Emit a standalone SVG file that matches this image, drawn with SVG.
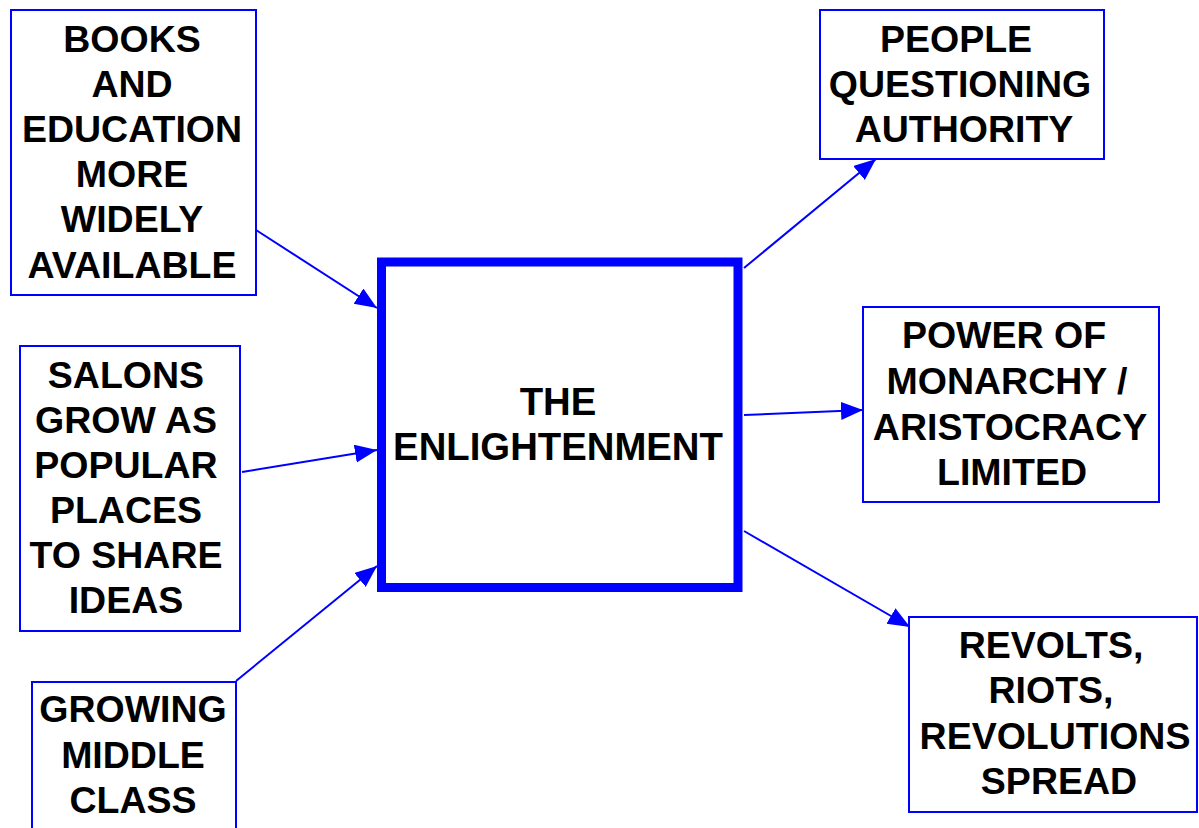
<svg xmlns="http://www.w3.org/2000/svg" width="1199" height="828" viewBox="0 0 1199 828">
  <style>
    .box { fill: #ffffff; stroke: #0000ff; stroke-width: 2; }
    .hub { fill: #ffffff; stroke: #0000ff; stroke-width: 9; }
    .lbl { font-family: "Liberation Sans", Arial, sans-serif; font-size: 37.5px; font-weight: bold; fill: #000000; text-anchor: middle; }
    .hub-lbl { font-family: "Liberation Sans", Arial, sans-serif; font-size: 38.3px; font-weight: bold; fill: #000000; text-anchor: middle; }
    .edge { stroke: #0000ff; stroke-width: 2; fill: none; marker-end: url(#arrow); }
  </style>
  <defs>
    <marker id="arrow" markerUnits="userSpaceOnUse" markerWidth="24" markerHeight="20" refX="22" refY="9" orient="auto">
      <path d="M0,0 L22,9 L0,18 Z" fill="#0000ff"/>
    </marker>
  </defs>
  <rect width="1199" height="828" fill="#ffffff"/>

  <!-- connectors -->
  <g id="connectors">
    <line class="edge" x1="256" y1="230" x2="377" y2="308"/>
    <line class="edge" x1="242" y1="472" x2="377" y2="450"/>
    <line class="edge" x1="236" y1="681" x2="377" y2="566"/>
    <line class="edge" x1="744" y1="268" x2="876" y2="159"/>
    <line class="edge" x1="744" y1="415" x2="863" y2="410"/>
    <line class="edge" x1="744" y1="531" x2="910" y2="627"/>
  </g>

  <!-- central node -->
  <g id="enlightenment">
    <rect class="hub" x="381.5" y="262" width="356.5" height="325.5"/>
    <text class="hub-lbl" x="558" y="415">THE</text>
    <text class="hub-lbl" x="558" y="460">ENLIGHTENMENT</text>
  </g>

  <!-- causes -->
  <g id="books">
    <rect class="box" x="11" y="10" width="245" height="285"/>
    <text class="lbl" x="132" y="52">BOOKS</text>
    <text class="lbl" x="132" y="97">AND</text>
    <text class="lbl" x="132" y="142">EDUCATION</text>
    <text class="lbl" x="132" y="187">MORE</text>
    <text class="lbl" x="132" y="232">WIDELY</text>
    <text class="lbl" x="132" y="278">AVAILABLE</text>
  </g>

  <g id="salons">
    <rect class="box" x="20" y="346" width="220" height="285"/>
    <text class="lbl" x="126" y="388">SALONS</text>
    <text class="lbl" x="126" y="433">GROW AS</text>
    <text class="lbl" x="126" y="478">POPULAR</text>
    <text class="lbl" x="126" y="523">PLACES</text>
    <text class="lbl" x="126" y="568">TO SHARE</text>
    <text class="lbl" x="126" y="613">IDEAS</text>
  </g>

  <g id="middle-class">
    <rect class="box" x="32" y="682" width="204" height="160"/>
    <text class="lbl" x="133" y="722">GROWING</text>
    <text class="lbl" x="133" y="768">MIDDLE</text>
    <text class="lbl" x="133" y="813">CLASS</text>
  </g>

  <!-- effects -->
  <g id="questioning">
    <rect class="box" x="820" y="10" width="284" height="149"/>
    <text class="lbl" x="956" y="52">PEOPLE</text>
    <text class="lbl" x="960" y="97">QUESTIONING</text>
    <text class="lbl" x="964" y="142">AUTHORITY</text>
  </g>

  <g id="monarchy">
    <rect class="box" x="863" y="307" width="296" height="195"/>
    <text class="lbl" x="1004" y="348">POWER OF</text>
    <text class="lbl" x="1007" y="394">MONARCHY /</text>
    <text class="lbl" x="1010" y="440">ARISTOCRACY</text>
    <text class="lbl" x="1012" y="485">LIMITED</text>
  </g>

  <g id="revolts">
    <rect class="box" x="909" y="617" width="288" height="195"/>
    <text class="lbl" x="1051" y="658">REVOLTS,</text>
    <text class="lbl" x="1051" y="703">RIOTS,</text>
    <text class="lbl" x="1055" y="749">REVOLUTIONS</text>
    <text class="lbl" x="1059" y="794">SPREAD</text>
  </g>
</svg>
